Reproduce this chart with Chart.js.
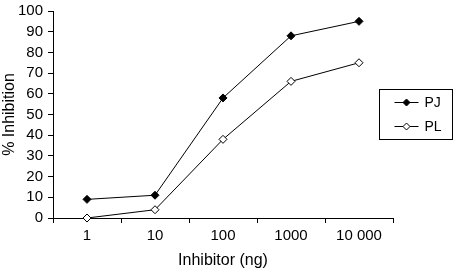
<!DOCTYPE html>
<html>
<head>
<meta charset="utf-8">
<script src="https://cdn.jsdelivr.net/npm/chart.js@4/dist/chart.umd.min.js"></script>
<style>
  html, body { margin: 0; padding: 0; background: #fff; }
  #wrap { width: 458px; height: 270px; }
</style>
</head>
<body>
<div id="wrap"><canvas id="chart" width="458" height="270"></canvas></div>
<script>
const doses = ['1', '10', '100', '1000', '10 000'];
const pjValues = [9, 11, 58, 88, 95];
const plValues = [0, 4, 38, 66, 75];
const yTicks = [0, 10, 20, 30, 40, 50, 60, 70, 80, 90, 100];

const FONT = 'Liberation Sans, Arial, Helvetica, sans-serif';

// legend drawn by hand: box with line + marker per series
const boxLegend = {
  id: 'boxLegend',
  afterDraw(chart) {
    const ctx = chart.ctx;
    const area = chart.chartArea;
    const x0 = area.right - 13.5;
    const y0 = 89.5;
    ctx.save();
    ctx.strokeStyle = '#000';
    ctx.lineWidth = 1;
    ctx.strokeRect(x0, y0, 73, 50);
    chart.data.datasets.forEach((ds, i) => {
      const y = y0 + 13 + i * 24;
      ctx.beginPath();
      ctx.moveTo(x0 + 15, y);
      ctx.lineTo(x0 + 39, y);
      ctx.stroke();
      const mx = x0 + 27;
      const r = 3.5;
      ctx.beginPath();
      ctx.moveTo(mx, y - r);
      ctx.lineTo(mx + r, y);
      ctx.lineTo(mx, y + r);
      ctx.lineTo(mx - r, y);
      ctx.closePath();
      ctx.fillStyle = ds.pointBackgroundColor;
      ctx.fill();
      ctx.stroke();
      ctx.fillStyle = '#000';
      ctx.font = '14px ' + FONT;
      ctx.textBaseline = 'middle';
      ctx.textAlign = 'left';
      ctx.fillText(ds.label, x0 + 45, y + 1);
    });
    ctx.restore();
  }
};

new Chart(document.getElementById('chart').getContext('2d'), {
  type: 'line',
  data: {
    labels: doses,
    datasets: [
      {
        label: 'PJ',
        data: pjValues,
        borderColor: '#000',
        borderWidth: 1,
        pointStyle: 'rectRot',
        pointRadius: 4,
        pointBorderWidth: 1,
        pointBorderColor: '#000',
        pointBackgroundColor: '#000',
        tension: 0
      },
      {
        label: 'PL',
        data: plValues,
        borderColor: '#000',
        borderWidth: 1,
        pointStyle: 'rectRot',
        pointRadius: 4,
        pointBorderWidth: 1,
        pointBorderColor: '#000',
        pointBackgroundColor: '#fff',
        tension: 0
      }
    ]
  },
  options: {
    responsive: false,
    animation: false,
    clip: false,
    layout: {
      padding: { top: 11, right: 65, bottom: 0, left: 0 }
    },
    scales: {
      x: {
        offset: true,
        grid: {
          offset: true,
          drawOnChartArea: false,
          drawTicks: true,
          tickLength: 5,
          color: '#000'
        },
        border: { display: true, color: '#000', width: 1 },
        ticks: {
          color: '#000',
          font: { family: FONT, size: 15 },
          padding: 4,
          maxRotation: 0,
          autoSkip: false
        },
        title: {
          display: true,
          text: 'Inhibitor (ng)',
          color: '#000',
          font: { family: FONT, size: 16 },
          padding: { top: 0, bottom: 0 }
        },
        afterFit(scale) { scale.height = 52; }
      },
      y: {
        min: 0,
        max: 100,
        afterBuildTicks(scale) { scale.ticks = yTicks.map(v => ({ value: v })); },
        grid: {
          drawOnChartArea: false,
          drawTicks: true,
          tickLength: 5,
          color: '#000'
        },
        border: { display: true, color: '#000', width: 1 },
        ticks: {
          color: '#000',
          font: { family: FONT, size: 15, lineHeight: 1 },
          padding: 5,
          autoSkip: false
        },
        title: {
          display: true,
          text: '% Inhibition',
          color: '#000',
          font: { family: FONT, size: 16 },
          padding: { top: 0, bottom: 0 }
        },
        afterFit(scale) {
          scale.width = 53;
          scale.paddingTop = 0;
        }
      }
    },
    plugins: {
      legend: { display: false },
      tooltip: { enabled: false }
    }
  },
  plugins: [boxLegend]
});
</script>
</body>
</html>
